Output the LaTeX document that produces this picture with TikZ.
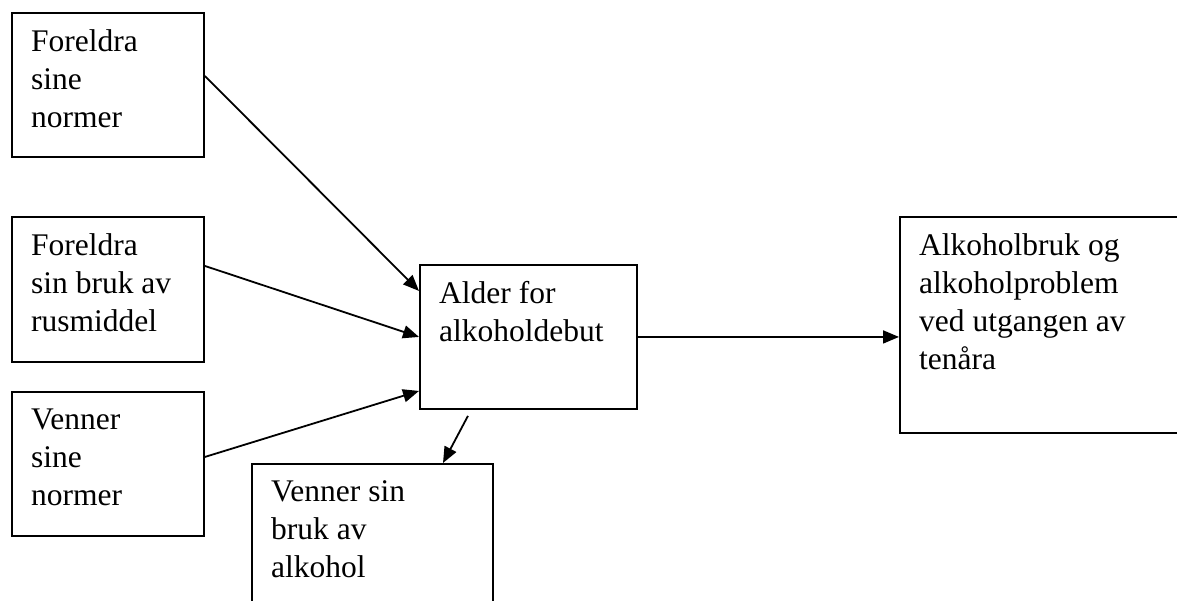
\documentclass[tikz,border=0pt]{standalone}
\usepackage{fontspec}
\setmainfont{Liberation Serif}
\usetikzlibrary{arrows.meta}
\begin{document}
\begin{tikzpicture}[x=1pt,y=-1pt,
  box/.style={draw, line width=1.9pt, inner sep=0pt, anchor=north west},
  lbl/.style={anchor=north west, inner sep=0pt, align=left, font=\fontsize{31.5}{38}\selectfont},
  arr/.style={line width=1.8pt, -{Triangle[length=16pt,width=13pt]}}]
\useasboundingbox (0,0) rectangle (1177,601);
\clip (0,0) rectangle (1177,601);
% boxes
\node[box, minimum width=192pt, minimum height=144pt] (A) at (11,12) {};
\node[box, minimum width=192pt, minimum height=145pt] (B) at (11,216) {};
\node[box, minimum width=192pt, minimum height=144pt] (C) at (11,391) {};
\node[box, minimum width=217pt, minimum height=144pt] (D) at (419,264) {};
\node[box, minimum width=241pt, minimum height=170pt] (E) at (251,463) {};
\node[box, minimum width=320pt, minimum height=216pt] (F) at (899,216) {};
% labels
\node[lbl] (tA) at ([xshift=20pt,yshift=-17.5pt]A.north west) {Foreldra\\sine\\normer};
\node[lbl] (tB) at ([xshift=20pt,yshift=-17.5pt]B.north west) {Foreldra\\sin bruk av\\rusmiddel};
\node[lbl] (tC) at ([xshift=20pt,yshift=-17.5pt]C.north west) {Venner\\sine\\normer};
\node[lbl] (tD) at ([xshift=20pt,yshift=-17.5pt]D.north west) {Alder for\\alkoholdebut};
\node[lbl] (tE) at ([xshift=20pt,yshift=-17.5pt]E.north west) {Venner sin\\bruk av\\alkohol};
\node[lbl] (tF) at ([xshift=20pt,yshift=-17.5pt]F.north west) {Alkoholbruk og\\alkoholproblem\\ved utgangen av\\tenåra};
% connectors
\draw[arr] ([yshift=9pt]A.east) -- ([yshift=46pt]D.west);
\draw[arr] ([yshift=23.5pt]B.east) -- (D.west);
\draw[arr] ([yshift=7pt]C.east) -- ([yshift=-54pt]D.west);
\draw[arr] ([xshift=-60.5pt,yshift=-6pt]D.south) -- ([xshift=192pt]E.north west);
\draw[arr] (D.east) -- (D.east -| F.west);
\end{tikzpicture}
\end{document}
